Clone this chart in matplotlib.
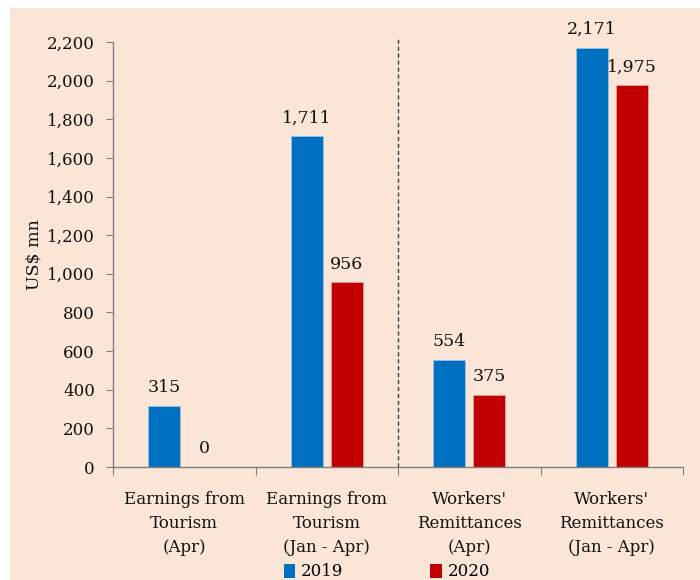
import matplotlib
matplotlib.use("Agg")
import matplotlib.pyplot as plt
from matplotlib.patches import Rectangle, Patch
import numpy as np

categories = ["Earnings from\nTourism\n(Apr)", "Earnings from\nTourism\n(Jan - Apr)",
              "Workers'\nRemittances\n(Apr)", "Workers'\nRemittances\n(Jan - Apr)"]
series_names = ["2019", "2020"]
values_2019 = [315, 1711, 554, 2171]
values_2020 = [0, 956, 375, 1975]
yticks = [0, 200, 400, 600, 800, 1000, 1200, 1400, 1600, 1800, 2000, 2200]

BG = "#FBE5D6"
BLUE = "#0070C0"
RED = "#C00000"
FS = 12
plt.rcParams['font.family'] = ['DejaVu Serif']

fig = plt.figure(figsize=(7, 5.8), dpi=100)
fig.patch.set_facecolor("white")
bg = fig.add_axes([10/700, 0, 690/700, 1 - 8/580], zorder=-10)
bg.set_axis_off()
bg.add_patch(Rectangle((0, 0), 1, 1, transform=bg.transAxes, facecolor=BG, edgecolor="none"))

ax = fig.add_axes([113/700, 1 - 467/580, 570/700, 425/580])
ax.set_facecolor("none")

x = np.arange(len(categories))
w = 0.225
off = 0.14
b1 = ax.bar(x - off, values_2019, w, color=BLUE, edgecolor="#9DC3E6", linewidth=0.6, label=series_names[0])
b2 = ax.bar(x + off, values_2020, w, color=RED, edgecolor="#E8A0A0", linewidth=0.6, label=series_names[1])

for bars, vals in ((b1, values_2019), (b2, values_2020)):
    for r, v in zip(bars, vals):
        ax.annotate(f"{v:,}", (r.get_x() + r.get_width()/2, v), xytext=(0, 7),
                    textcoords="offset points", ha="center", va="bottom",
                    fontsize=FS + 0.5, color="#111111")

ax.set_xlim(-0.5, len(categories) - 0.5)
ax.set_ylim(0, 2200)
ax.set_yticks(yticks)
ax.set_yticklabels([f"{t:,}" for t in yticks], fontsize=FS, color="#111111")
ax.set_xticks(np.arange(len(categories) + 1) - 0.5)
ax.set_xticklabels([])
ax.set_xticks(x, minor=True)
ax.set_xticklabels(categories, minor=True, fontsize=FS, color="#111111", linespacing=1.55)
ax.tick_params(axis="x", which="minor", length=0, pad=17)
ax.tick_params(axis="x", which="major", length=6, color="#7f7f7f", direction="out")
ax.tick_params(axis="y", length=5, color="#7f7f7f", direction="out", pad=8)

for s in ("top", "right"):
    ax.spines[s].set_visible(False)
for s in ("left", "bottom"):
    ax.spines[s].set_color("#7f7f7f")
    ax.spines[s].set_linewidth(1.0)

ax.plot([1.5, 1.5], [0, 2225], linestyle=(0, (3, 2)), color="#404040", linewidth=1.0,
        clip_on=False)

ax.set_ylabel("US$ mn", fontsize=FS + 0.5, color="#111111", labelpad=3)

handles = [Patch(facecolor=BLUE), Patch(facecolor=RED)]
fig.legend(handles, series_names, loc="center", bbox_to_anchor=(387/700, 1 - 572/580),
           ncol=2, frameon=False, fontsize=FS, handlelength=0.7, handleheight=0.9,
           columnspacing=5.2, handletextpad=0.35)

fig.savefig("out.png", dpi=100, facecolor=fig.get_facecolor())
